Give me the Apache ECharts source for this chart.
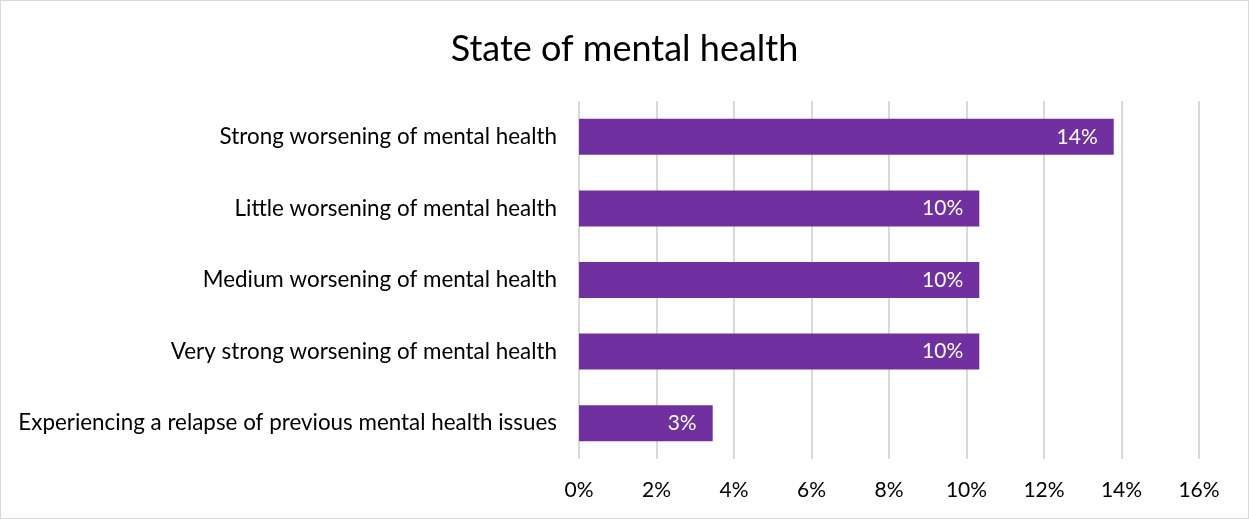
<!DOCTYPE html>
<html>
<head>
<meta charset="utf-8">
<script src="https://cdn.jsdelivr.net/npm/echarts@6/dist/echarts.min.js"></script>
<style>
  html, body { margin: 0; padding: 0; background: #fff; }
  #chart { width: 1247px; height: 517px; border: 1px solid #D9D9D9; }
</style>
</head>
<body>
<div id="chart"></div>
<script>
// Share of respondents per mental-health state (percent)
const categories = [
  'Strong worsening of mental health',
  'Little worsening of mental health',
  'Medium worsening of mental health',
  'Very strong worsening of mental health',
  'Experiencing a relapse of previous mental health issues'
];
const values = [13.8, 10.33, 10.33, 10.33, 3.45];
const xTicks = [0, 2, 4, 6, 8, 10, 12, 14, 16];

const FONT = 'Lato, "Open Sans", sans-serif';
const chart = echarts.init(document.getElementById('chart'));
chart.setOption({
  animation: false,
  title: {
    text: 'State of mental health',
    left: 'center',
    top: 25,
    textStyle: { fontFamily: FONT, fontSize: 36, fontWeight: 'normal', color: '#000' }
  },
  grid: { left: 578, right: 49, top: 100, bottom: 59, containLabel: false },
  xAxis: {
    type: 'value',
    min: xTicks[0],
    max: xTicks[xTicks.length - 1],
    interval: 2,
    axisLine: { show: false },
    axisTick: { show: false },
    splitLine: { show: true, lineStyle: { color: '#D9D9D9', width: 2 } },
    axisLabel: {
      margin: 21,
      fontFamily: FONT, fontSize: 21, color: '#000',
      formatter: v => v + '%'
    }
  },
  yAxis: {
    type: 'category',
    data: categories,
    inverse: true,
    axisLine: { show: false },
    axisTick: { show: false },
    axisLabel: { margin: 22, fontFamily: FONT, fontSize: 22.4, color: '#000' }
  },
  series: [{
    type: 'bar',
    data: values,
    barWidth: 36,
    itemStyle: { color: '#7030A0' },
    label: {
      show: true,
      position: 'insideRight',
      distance: 16,
      color: '#fff',
      fontFamily: FONT,
      fontSize: 21,
      formatter: p => Math.round(p.value) + '%'
    }
  }]
});
</script>
</body>
</html>
